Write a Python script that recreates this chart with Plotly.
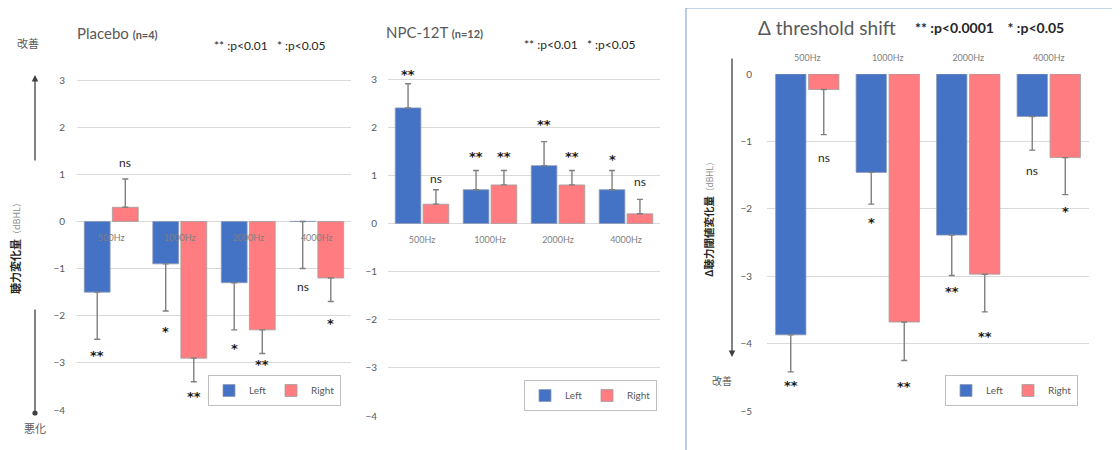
import plotly.graph_objects as go

W, H = 1120, 450
OFF = 8  # page body margin in the photographed page
freqs = ["500Hz", "1000Hz", "2000Hz", "4000Hz"]

# Placebo (n=4)
pla_left = [-1.5, -0.9, -1.3, 0.0]
pla_left_err = [1.0, 1.0, 1.0, 1.0]
pla_right = [0.3, -2.9, -2.3, -1.2]
pla_right_err = [0.6, 0.5, 0.5, 0.5]
pla_sig_left = ["**", "*", "*", "ns"]
pla_sig_left_y = [-2.75, -2.26, -2.6, -1.37]
pla_sig_right = ["ns", "**", "**", "*"]
pla_sig_right_y = [1.25, -3.63, -2.95, -2.09]

# NPC-12T (n=12)
npc_left = [2.4, 0.7, 1.2, 0.7]
npc_left_err = [0.5, 0.4, 0.5, 0.4]
npc_right = [0.4, 0.8, 0.8, 0.2]
npc_right_err = [0.3, 0.3, 0.3, 0.3]
npc_sig_left = ["**", "**", "**", "*"]
npc_sig_left_y = [3.17, 1.47, 2.14, 1.42]
npc_sig_right = ["ns", "**", "**", "ns"]
npc_sig_right_y = [0.94, 1.47, 1.47, 0.88]

# Delta threshold shift
dts_left = [-3.87, -1.46, -2.39, -0.63]
dts_left_err = [0.55, 0.47, 0.6, 0.5]
dts_right = [-0.23, -3.68, -2.97, -1.24]
dts_right_err = [0.67, 0.57, 0.56, 0.55]
dts_sig_left = ["**", "*", "**", "ns"]
dts_sig_left_y = [-4.56, -2.14, -3.17, -1.43]
dts_sig_right = ["ns", "**", "**", "*"]
dts_sig_right_y = [-1.24, -4.57, -3.84, -1.98]

BLUE = "#4472C4"
RED = "#FF7C80"
FONT = "Lato, 'Noto Sans CJK JP', sans-serif"
JP = "'Noto Sans CJK JP', sans-serif"


def px_x(x):
    return (x - OFF) / W


def px_y(y):
    return 1 - (y - OFF) / H


def ydomain(py_top, py_bot, vtop, vbot, pad_top):
    # pixel rows of the top and bottom gridlines -> domain with a little head-room above vtop
    unit = (py_bot - py_top) / (vtop - vbot)
    return [px_y(py_bot), px_y(py_top - pad_top * unit)], [vbot, vtop + pad_top]


def err_kw(vals, errs):
    up = [e if v > 0 else 0 for v, e in zip(vals, errs)]
    dn = [e if v <= 0 else 0 for v, e in zip(vals, errs)]
    return dict(type="data", symmetric=False, array=up, arrayminus=dn,
                color="#7F7F7F", thickness=1.4, width=3)


fig = go.Figure()

panels = [
    ("x", "y", "legend", pla_left, pla_left_err, pla_right, pla_right_err,
     pla_sig_left, pla_sig_left_y, pla_sig_right, pla_sig_right_y, (77, 351)),
    ("x2", "y2", "legend2", npc_left, npc_left_err, npc_right, npc_right_err,
     npc_sig_left, npc_sig_left_y, npc_sig_right, npc_sig_right_y, (388, 660)),
    ("x3", "y3", "legend3", dts_left, dts_left_err, dts_right, dts_right_err,
     dts_sig_left, dts_sig_left_y, dts_sig_right, dts_sig_right_y, (767, 1089)),
]

annotations = []
BARGAP = 0.18


def sig_font(t):
    if "*" in t:
        return dict(size=13, color="#1A1A1A", family="'DejaVu Sans', sans-serif")
    return dict(size=12, color="#262626", family=FONT)


for xa, ya, lg, lv, le, rv, re_, sl, sly, sr, sry, (x0, x1) in panels:
    fig.add_trace(go.Bar(x=freqs, y=lv, name="Left", marker=dict(color=BLUE, line=dict(color="#8E9BB5", width=0.8)),
                         error_y=err_kw(lv, le), xaxis=xa, yaxis=ya, legend=lg))
    fig.add_trace(go.Bar(x=freqs, y=rv, name="Right", marker=dict(color=RED, line=dict(color="#A0A0A0", width=0.8)),
                         error_y=err_kw(rv, re_), xaxis=xa, yaxis=ya, legend=lg))
    catw = (x1 - x0) / len(freqs)
    off = (1 - BARGAP) / 4 * catw
    for side, labels, ys in ((-1, sl, sly), (1, sr, sry)):
        for f, t, yv in zip(freqs, labels, ys):
            annotations.append(dict(x=f, y=yv, xref=xa, yref=ya, text=("<b>%s</b>" % t) if "*" in t else t,
                                    showarrow=False, xshift=side * off, yshift=-4 if "*" in t else 0,
                                    xanchor="center", yanchor="middle", font=sig_font(t)))


def pann(x, y, text, size, color="#404040", xanchor="left", family=FONT, **kw):
    d = dict(x=px_x(x), y=px_y(y), xref="paper", yref="paper", text=text, showarrow=False,
             xanchor=xanchor, yanchor="middle", font=dict(size=size, color=color, family=family))
    d.update(kw)
    annotations.append(d)


pann(75, 33, "Placebo <b><span style='font-size:11px'>(n=4)</span></b>", 15, "#595959")
pann(212, 46, "** :p<0.01   * :p<0.05", 12, "#262626")
pann(384, 32, "NPC-12T <b><span style='font-size:11px'>(n=12)</span></b>", 15, "#595959")
pann(522, 45, "** :p<0.01   * :p<0.05", 12, "#262626")
pann(756, 27, "Δ threshold shift", 19, "#595959")
pann(913, 28, "<b>** :p<0.0001    * :p<0.05</b>", 14, "#262626")

# side labels
pann(28, 43, "改善", 11, "#595959", xanchor="center", family=JP)
pann(35, 428, "悪化", 11, "#595959", xanchor="center", family=JP)
pann(15, 246, "<b>聴力変化量</b><span style='font-size:9px;color:#8C8C8C'>（dBHL）</span>", 11, "#262626",
     xanchor="center", family=JP, textangle=-90)
pann(722, 380, "改善", 10, "#595959", xanchor="center", family=JP)
pann(708, 217, "<b>Δ聴力閾値変化量</b><span style='font-size:8.5px;color:#8C8C8C'>（dBHL）</span>", 10.5, "#262626",
     xanchor="center", family=JP, textangle=-90)

# arrows
for (ax_x, tip_y, tail_dy, head) in ((35, 75, 87, 2), (35, 413, -105, 6), (732, 357, -300, 2)):
    annotations.append(dict(x=px_x(ax_x), y=px_y(tip_y), xref="paper", yref="paper", text="", showarrow=True,
                            ax=0, ay=tail_dy, arrowhead=head, arrowsize=1, arrowwidth=1.3, arrowcolor="#404040"))

ycommon = dict(dtick=1, tick0=0, gridcolor="#D9D9D9", gridwidth=1, zeroline=False, showline=False,
               ticks="outside", tickcolor="rgba(0,0,0,0)", tickfont=dict(size=10, color="#595959", family=FONT),
               fixedrange=True, automargin=False)
xcommon = dict(type="category", showgrid=False, zeroline=False, showline=False, ticks="outside",
               tickcolor="rgba(0,0,0,0)", tickfont=dict(size=9, color="#7F7F7F", family=FONT), automargin=False)

legcommon = dict(orientation="h", bordercolor="#BFBFBF", borderwidth=1, bgcolor="white",
                 font=dict(size=10, color="#595959", family=FONT), itemwidth=30, xanchor="right",
                 yanchor="top", tracegroupgap=0)

d1, r1 = ydomain(80, 410, 3, -4, 0.35)
d2, r2 = ydomain(79, 416, 3, -4, 0.35)
d3, r3 = ydomain(74, 411, 0, -5, 0.0)

fig.update_layout(
    width=W, height=H, margin=dict(l=0, r=0, t=0, b=0, pad=0, autoexpand=False),
    paper_bgcolor="white", plot_bgcolor="white",
    barmode="group", bargap=BARGAP, bargroupgap=0.08,
    font=dict(family=FONT),
    xaxis=dict(domain=[px_x(77), px_x(351)], anchor="free", position=px_y(221), ticklen=8, **xcommon),
    yaxis=dict(domain=d1, range=r1, anchor="x", ticklen=9, **ycommon),
    xaxis2=dict(domain=[px_x(388), px_x(660)], anchor="free", position=px_y(222), ticklen=9, **xcommon),
    yaxis2=dict(domain=d2, range=r2, anchor="x2", ticklen=8, **ycommon),
    xaxis3=dict(domain=[px_x(767), px_x(1089)], anchor="y3", side="top", ticklen=8, **xcommon),
    yaxis3=dict(domain=d3, range=r3, anchor="x3", ticklen=12, **ycommon),
    legend=dict(x=px_x(341), y=px_y(375), **legcommon),
    legend2=dict(x=px_x(657), y=px_y(380), **legcommon),
    legend3=dict(x=px_x(1078), y=px_y(375), **legcommon),
    annotations=annotations,
    shapes=[dict(type="rect", xref="paper", yref="paper", x0=px_x(686), x1=1.02, y0=-0.03, y1=px_y(8),
                 line=dict(color="#8FAADC", width=1.2), fillcolor="rgba(0,0,0,0)")],
    showlegend=True,
)

fig.write_html("out.html")
